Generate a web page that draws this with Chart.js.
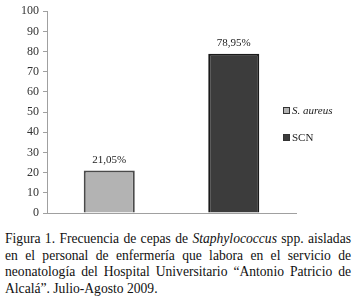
<!DOCTYPE html>
<html>
<head>
<meta charset="utf-8">
<script src="https://cdn.jsdelivr.net/npm/chart.js@4/dist/chart.umd.min.js"></script>
<style>
  html, body { margin: 0; padding: 0; background: #fff; }
  #wrap { position: relative; width: 356px; height: 228px; }
  #legend { position: absolute; left: 283px; top: 103px; font-family: 'Liberation Serif', 'Times New Roman', serif; font-size: 11px; color: #222; }
  #legend div { display: flex; align-items: center; height: 14px; margin-bottom: 13px; }
  #legend span.box { width: 5px; height: 5px; border: 1px solid #333; margin-right: 2px; }
  #caption { position: absolute; left: 5px; top: 231px; width: 346px; font-family: 'Liberation Serif', 'Times New Roman', serif;
    font-size: 13.6px; line-height: 16.5px; text-align: justify; color: #111; }
</style>
</head>
<body>
<div id="wrap">
  <canvas id="chart" width="356" height="228"></canvas>
  <div id="legend"></div>
</div>
<div id="caption">Figura 1. Frecuencia de cepas de <i>Staphylococcus</i> spp. aisladas en el personal de enfermería que labora en el servicio de neonatología del Hospital Universitario “Antonio Patricio de Alcalá”. Julio-Agosto 2009.</div>
<script>
// chart values
const categories = ['S. aureus', 'SCN'];
const italicCats = [true, false];
const percentages = [21.05, 78.95];
const valueLabels = ['21,05%', '78,95%'];
const yTicks = [0, 10, 20, 30, 40, 50, 60, 70, 80, 90, 100];

const fills = ['#b3b3b3', '#3c3c3c'];
const borders = ['#4a4a4a', '#1a1a1a'];
const serif = "'Liberation Serif', 'Times New Roman', serif";

// value labels above each bar
const barLabels = {
  id: 'barLabels',
  afterDatasetsDraw(chart) {
    const ctx = chart.ctx;
    const meta = chart.getDatasetMeta(0);
    ctx.save();
    ctx.font = '11px ' + serif;
    ctx.fillStyle = '#222';
    ctx.textAlign = 'center';
    ctx.textBaseline = 'bottom';
    meta.data.forEach((bar, i) => {
      ctx.fillText(valueLabels[i], bar.x, bar.y - 5);
    });
    ctx.restore();
  },
};

function draw() {
  new Chart(document.getElementById('chart'), {
    type: 'bar',
    data: {
      labels: categories,
      datasets: [{
        data: percentages,
        backgroundColor: fills,
        borderColor: borders,
        borderWidth: 2,
        barPercentage: 0.41,
        categoryPercentage: 1,
      }],
    },
    options: {
      responsive: false,
      animation: false,
      layout: { padding: { top: 11, right: 60, bottom: 7, left: 0 } },
      plugins: { legend: { display: false }, tooltip: { enabled: false } },
      scales: {
        x: {
          ticks: { display: false },
          grid: { display: false },
          border: { display: true, color: '#a0a0a0', width: 1 },
        },
        y: {
          min: 0,
          max: 100,
          afterFit(scale) { scale.width = 47; },
          afterBuildTicks(scale) { scale.ticks = yTicks.map((v) => ({ value: v })); },
          ticks: {
            color: '#333',
            padding: 4,
            font: { family: serif, size: 12 },
          },
          grid: { drawOnChartArea: false, drawTicks: true, tickLength: 4, color: '#a0a0a0' },
          border: { display: true, color: '#a0a0a0', width: 1 },
        },
      },
    },
    plugins: [barLabels],
  });

  // legend built from the chart data
  const legend = document.getElementById('legend');
  categories.forEach((c, i) => {
    const row = document.createElement('div');
    const box = document.createElement('span');
    box.className = 'box';
    box.style.background = fills[i];
    const txt = document.createElement('span');
    txt.textContent = c;
    if (italicCats[i]) txt.style.fontStyle = 'italic';
    row.appendChild(box);
    row.appendChild(txt);
    legend.appendChild(row);
  });
}

document.fonts.load('12px "Liberation Serif"').then(draw, draw);
</script>
</body>
</html>
